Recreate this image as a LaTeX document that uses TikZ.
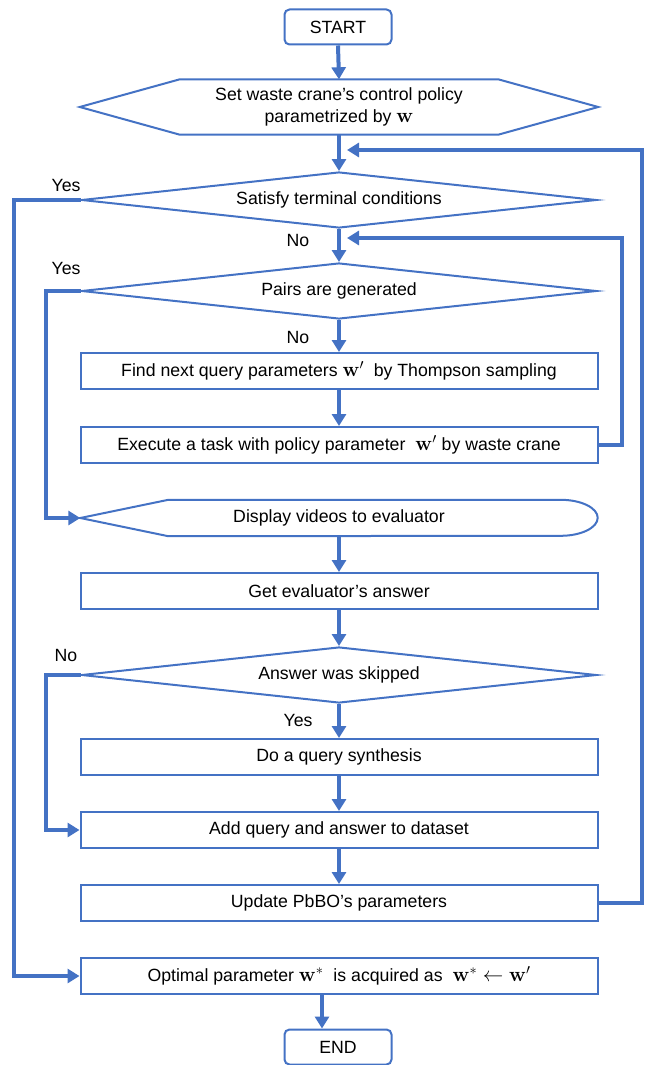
\RequirePackage{fix-cm}
\documentclass[tikz,border=0pt]{standalone}
\usepackage[no-math]{fontspec}
\setmainfont{Liberation Sans}
\usepackage{tikz}
\usetikzlibrary{arrows.meta,shapes.geometric,positioning,calc}
\definecolor{flowblue}{HTML}{4472C4}
\newcommand{\bigw}[1]{{\fontsize{20.5}{22}\selectfont$\mathbf{w}#1$}}

\begin{document}
\begin{tikzpicture}[
x=1pt, y=-1pt,
font=\fontsize{17.7}{22}\selectfont,
block/.style={draw=flowblue,line width=2pt,rectangle,minimum width=517pt,minimum height=36pt,inner sep=0pt},
terminal/.style={draw=flowblue,line width=2pt,rectangle,rounded corners=5pt,minimum width=107pt,minimum height=35pt},
decision/.style={draw=flowblue,line width=2pt,diamond,aspect=9,minimum width=515pt,minimum height=56pt,inner sep=0pt},
outline/.style={draw=flowblue,line width=2pt},
conn/.style={draw=flowblue,line width=4pt,-{Triangle[length=12pt,width=14pt]}}
]
    \useasboundingbox (0,0) rectangle (648,1065);

    % Draw start and preparation
    \node[terminal] (start) at (338,27) {START};
    \node[minimum width=518pt,minimum height=55pt,inner sep=0pt,align=center] (set) at (339,107)
        {Set waste crane’s control policy\\parametrized by \bigw{}};
    \draw[outline] (set.west) -- ([xshift=100pt]set.north west) -- ([xshift=-100pt]set.north east)
        -- (set.east) -- ([xshift=-100pt]set.south east) -- ([xshift=100pt]set.south west) -- cycle;

    % Draw the main chain
    \node[decision] (term) at (339,200) {Satisfy terminal conditions};
    \node[decision] (pairs) at (339,291) {Pairs are generated};
    \node[block] (find) at (339,371) {Find next query parameters \bigw{'}\ \ by Thompson sampling};
    \node[block] (exec) at (339,445) {Execute a task with policy parameter \ \bigw{'}\ by waste crane};

    \node[minimum width=517pt,minimum height=36pt,inner sep=0pt] (disp) at (339,518) {Display videos to evaluator};
    \draw[outline] (disp.west) -- ([xshift=88pt]disp.north west) -- ([xshift=-37pt]disp.north east)
        arc (90:-90:37pt and 18pt) -- ([xshift=88pt]disp.south west) -- cycle;

    \node[block] (answer) at (339,591) {Get evaluator’s answer};
    \node[decision] (skip) at (339,675) {Answer was skipped};
    \node[block] (synth) at (339,757) {Do a query synthesis};
    \node[block] (add) at (339,830) {Add query and answer to dataset};
    \node[block] (update) at (339,903) {Update PbBO’s parameters};
    \node[block] (opt) at (339,976) {Optimal parameter \bigw{^*}\ \ is acquired as \ \bigw{^*\leftarrow\mathbf{w}'}};
    \node[terminal] (stop) at (338,1047) {END};

    % Labels
    \node (yes1) at (66,185) {Yes};
    \node (no1) at (298,240) {No};
    \node (yes2) at (66,268) {Yes};
    \node (no2) at (298,337) {No};
    \node (no3) at (66,655) {No};
    \node (yes3) at (298,720) {Yes};

    % Loop back points
    \coordinate (back1) at (347,150);
    \coordinate (back2) at (347,238);

    % Connectors
    \draw[conn] (start.south) -- (set.north);
    \draw[conn] (set.south) -- (term.north);
    \draw[conn] (term.south) -- (pairs.north);
    \draw[conn] (pairs.south) -- (find.north);
    \draw[conn] (find.south) -- (exec.north);
    \draw[conn] (disp.south) -- (answer.north);
    \draw[conn] (answer.south) -- (skip.north);
    \draw[conn] (skip.south) -- (synth.north);
    \draw[conn] (synth.south) -- (add.north);
    \draw[conn] (add.south) -- (update.north);
    \draw[conn] ([xshift=-17pt]opt.south) -- ([xshift=-17pt]opt.south |- stop.north);

    \draw[conn] (term.west) -- ++(-67,0) |- (opt.west);
    \draw[conn] (pairs.west) -- ++(-35,0) |- (disp.west);
    \draw[conn] (skip.west) -- ++(-35,0) |- (add.west);

    \draw[conn] (exec.east) -- ++(23,0) |- (back2);
    \draw[conn] (update.east) -- ++(43,0) |- (back1);

\end{tikzpicture}
\end{document}
